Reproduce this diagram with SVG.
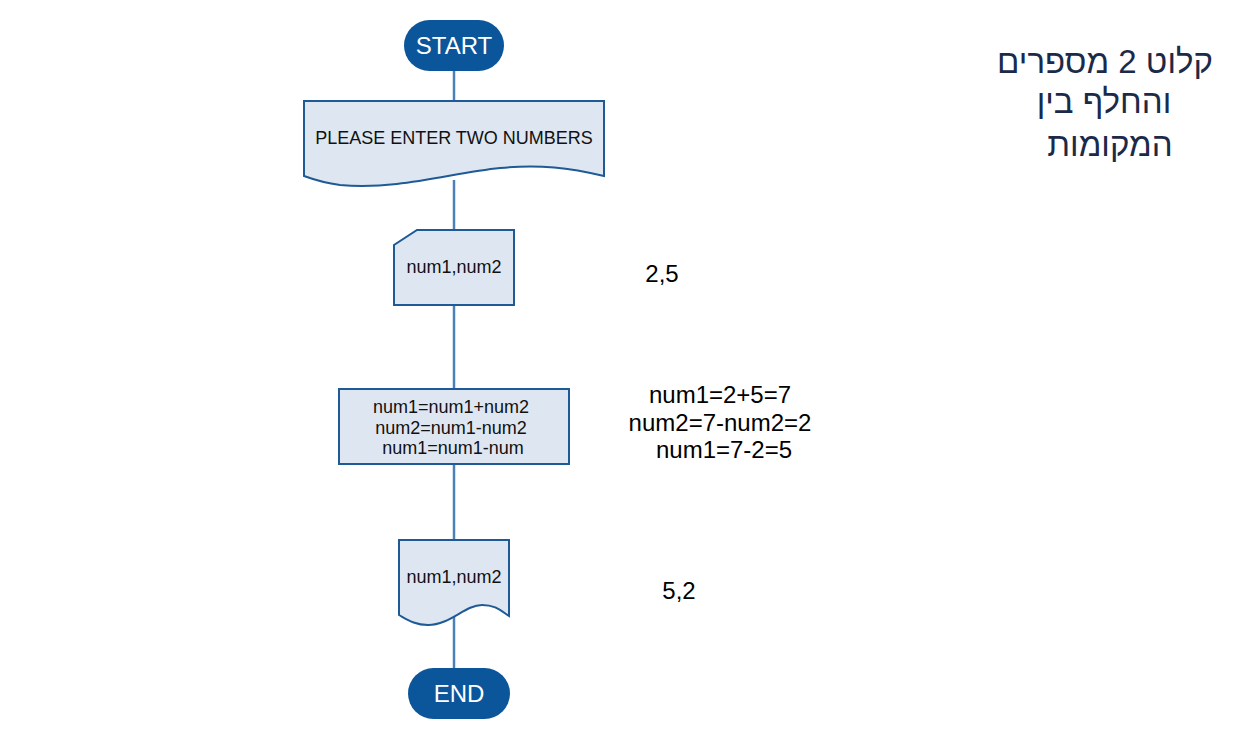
<svg xmlns="http://www.w3.org/2000/svg" width="1258" height="739" viewBox="0 0 1258 739">
<style>
.shape{fill:#DEE6F1;stroke:#1D5A96;stroke-width:2}
.term{fill:#0B559B}
.conn{stroke:#4C80B8;stroke-width:2.5;fill:none}
.t{font-family:"Liberation Sans",Arial,sans-serif;fill:#111;text-anchor:middle;font-size:18px}
.tw{font-family:"Liberation Sans",Arial,sans-serif;fill:#fff;text-anchor:middle;font-size:24px}
.side{font-family:"Liberation Sans",Arial,sans-serif;fill:#000;text-anchor:middle;font-size:24px}
.heb{font-family:"Liberation Sans","DejaVu Sans",sans-serif;fill:#1B2A48;text-anchor:middle;font-size:33px}
</style>
<rect width="1258" height="739" fill="#fff"/>
<g id="connectors">
<line class="conn" x1="454" y1="71" x2="454" y2="101"/>
<line class="conn" x1="454" y1="180" x2="454" y2="230"/>
<line class="conn" x1="454" y1="305" x2="454" y2="389"/>
<line class="conn" x1="454" y1="464" x2="454" y2="540"/>
<line class="conn" x1="454" y1="615" x2="454" y2="668"/>
</g>
<g id="start">
<rect class="term" x="404" y="20" width="100" height="51" rx="25.5"/>
<text class="tw" x="454" y="54">START</text>
</g>
<g id="prompt">
<path class="shape" d="M304,101 H604 V176 C570,168 540,164 500,168 C450,173 400,190 340,185 C325,183 315,180 304,176 Z"/>
<text class="t" x="454" y="144">PLEASE ENTER TWO NUMBERS</text>
</g>
<g id="input">
<path class="shape" d="M417,230 H514 V305 H394 V245 Z"/>
<text class="t" x="454" y="273">num1,num2</text>
</g>
<g id="process">
<rect class="shape" x="339" y="389" width="230" height="75"/>
<text class="t" x="451" y="413">num1=num1+num2</text>
<text class="t" x="451" y="434">num2=num1-num2</text>
<text class="t" x="453" y="454">num1=num1-num</text>
</g>
<g id="output">
<path class="shape" d="M399,540 H509 V616 C500,610 495,605 482,605 C465,605 450,625 428,625 C415,625 408,620 399,615 Z"/>
<text class="t" x="454" y="583">num1,num2</text>
</g>
<g id="end">
<rect class="term" x="408" y="668" width="102" height="51" rx="25.5"/>
<text class="tw" x="459" y="702">END</text>
</g>
<g id="notes">
<text class="side" x="662" y="282">2,5</text>
<text class="side" x="720" y="403">num1=2+5=7</text>
<text class="side" x="720" y="431">num2=7-num2=2</text>
<text class="side" x="724" y="458">num1=7-2=5</text>
<text class="side" x="679" y="599">5,2</text>
</g>
<g id="title">
<text class="heb" x="1105" y="73" direction="rtl">קלוט 2 מספרים</text>
<text class="heb" x="1104" y="113" direction="rtl">והחלף בין</text>
<text class="heb" x="1110" y="156" direction="rtl">המקומות</text>
</g>
</svg>
